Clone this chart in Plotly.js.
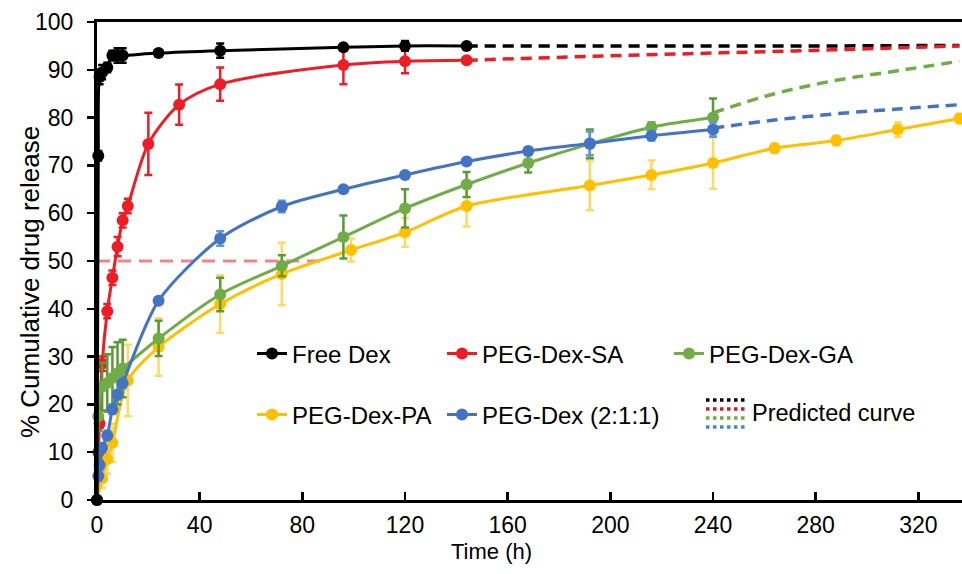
<!DOCTYPE html>
<html>
<head>
<meta charset="utf-8">
<script src="https://cdn.plot.ly/plotly-3.0.1.min.js"></script>
<style>html,body{margin:0;padding:0;background:#fff;}#chart{width:962px;height:574px;}</style>
</head>
<body>
<div id="chart"></div>
<script>
// ---- Data ----
const freeT = [0, 0.5, 1, 2, 4, 6, 8, 10, 24, 48, 96, 120, 144];
const freeV = [0, 72, 88.5, 89.5, 90.5, 93, 93, 93, 93.5, 94, 94.7, 95, 95];
const freeE = [0, 1, 1.5, 1.5, 1, 1, 1.5, 1.5, 0.5, 1.5, 0.5, 1, 0.3];

const saT = [0, 0.5, 1, 2, 4, 6, 8, 10, 12, 20, 32, 48, 96, 120, 144];
const saV = [0, 10, 16, 28.5, 39.5, 46.5, 53, 58.5, 61.5, 74.5, 82.7, 87, 91, 91.8, 92];
const saE = [0, 1, 1, 1.5, 1.5, 1.5, 2, 1.5, 1.5, 6.5, 4.2, 3.5, 4, 2.5, 0.5];

const gaT = [0, 0.5, 2, 4, 6, 8, 10, 24, 48, 72, 96, 120, 144, 168, 192, 216, 240];
const gaV = [0, 17.5, 23.7, 24.5, 25.5, 26.5, 27.5, 33.8, 43, 49, 55, 61, 66, 70.5, 74.5, 78, 80];
const gaE = [0, 3, 5, 6, 6.5, 6.5, 6, 3.7, 3.5, 2.2, 4.5, 4, 2.6, 2, 3, 1, 4];

const paT = [0, 2, 4, 6, 12, 24, 48, 72, 99, 120, 144, 192, 216, 240, 264, 288, 312, 336];
const paV = [0, 4.5, 8.5, 12, 25, 32, 41, 47.3, 52.3, 56, 61.5, 65.8, 68, 70.5, 73.6, 75.2, 77.5, 79.8];
const paE = [0, 2, 3, 4, 7.5, 6, 6, 6.5, 2.4, 3, 4.3, 5.2, 3, 5.4, 1, 1, 1.5, 1];

const dxT = [0, 0.5, 1, 2, 4, 6, 8, 10, 24, 48, 72, 96, 120, 144, 168, 192, 216, 240];
const dxV = [0, 5, 7.3, 10.9, 13.5, 19, 22, 24.4, 41.7, 54.7, 61.4, 65, 68, 70.8, 73, 74.6, 76.2, 77.5];
const dxE = [0, 1, 1, 1, 1, 1, 1, 1, 0.5, 1.5, 1.2, 0.5, 0.5, 0.5, 0.8, 2.5, 1, 1.5];

// Predicted curves
const predEarlyT = [144, 192, 240, 288, 336];
const predFreeV = [95, 95, 95, 95, 95.1];
const predSaV = [92, 92.8, 93.5, 94.2, 95];
const predLateT = [240, 264, 288, 312, 336];
const predGaV = [81, 85, 87.8, 89.8, 91.8];
const predDxV = [77.8, 79.5, 80.8, 81.8, 82.7];

// 50 % release guide
const halfT = [0, 90];
const halfV = [50, 50];

const seriesNames = ["Free Dex", "PEG-Dex-SA", "PEG-Dex-GA", "PEG-Dex-PA", "PEG-Dex (2:1:1)"];
const predLabel = "Predicted curve";
const xTitle = "Time (h)";
const yTitle = "% Cumulative drug release";

// ---- Styles ----
const C = {black: "#000000", red: "#ee1c25", green: "#70ad47", yellow: "#ffc000", blue: "#4472c4"};
const EC = {black: "#000000", red: "#ee1c25", green: "#5a9a34", yellow: "#ffd966", blue: "#5b9bd5"};
const FONT = "Liberation Sans, Arial, Helvetica, sans-serif";
const W = 962, H = 574, L = 97, R = 0, T = 22, B = 74;
const pw = W - L - R, ph = H - T - B;
const px2x = p => (p - L) / pw;
const px2y = p => (H - B - p) / ph;

function dataTrace(x, y, e, col, ecol, name, legendId) {
  return {
    x: x, y: y, type: "scatter", mode: "lines+markers", name: name,
    line: {color: col, width: 3, shape: "spline", smoothing: 0.8},
    marker: {color: col, size: 12},
    error_y: {type: "data", array: e, visible: true, color: ecol, thickness: 2.5, width: 4},
    cliponaxis: false, legend: legendId, showlegend: true
  };
}
function predTrace(x, y, col) {
  return {
    x: x, y: y, type: "scatter", mode: "lines", showlegend: false,
    line: {color: col, width: 3.5, dash: "11px,7px", shape: "spline"}, hoverinfo: "skip"
  };
}

const traces = [
  {x: halfT, y: halfV, type: "scatter", mode: "lines", showlegend: false,
   line: {color: "rgba(240,110,115,0.85)", width: 3, dash: "13px,8px"}},
  predTrace(predEarlyT, predFreeV, C.black),
  predTrace(predEarlyT, predSaV, C.red),
  predTrace(predLateT, predGaV, C.green),
  predTrace(predLateT, predDxV, C.blue),
  dataTrace(paT, paV, paE, C.yellow, EC.yellow, seriesNames[3], "legend4"),
  dataTrace(saT, saV, saE, C.red, EC.red, seriesNames[1], "legend2"),
  dataTrace(gaT, gaV, gaE, C.green, EC.green, seriesNames[2], "legend3"),
  dataTrace(dxT, dxV, dxE, C.blue, EC.blue, seriesNames[4], "legend5"),
  dataTrace(freeT, freeV, freeE, C.black, EC.black, seriesNames[0], "legend")
];

function leg(pxX, pxY) {
  return {x: px2x(pxX), y: px2y(pxY), xanchor: "left", yanchor: "middle",
          bgcolor: "rgba(0,0,0,0)", borderwidth: 0, orientation: "v",
          font: {family: FONT, size: 24, color: "#000"}, itemwidth: 30, tracegroupgap: 0};
}

// "Predicted curve" legend symbol: four stacked dotted lines
const predCols = ["#000000", "#c0202a", "#70ad47", "#3c8ad8"];
const predYs = [400, 409, 418, 427];
const shapes = predCols.map((c, i) => ({
  type: "line", xref: "paper", yref: "paper",
  x0: px2x(706), x1: px2x(746), y0: px2y(predYs[i]), y1: px2y(predYs[i]),
  line: {color: c, width: 3.5, dash: "dot"}
}));

const layout = {
  width: W, height: H,
  margin: {l: L, r: R, t: T, b: B, pad: 0},
  paper_bgcolor: "#fff", plot_bgcolor: "#fff",
  font: {family: FONT, color: "#000"},
  xaxis: {
    range: [0, 337], tickvals: [0, 40, 80, 120, 160, 200, 240, 280, 320],
    ticks: "inside", ticklen: 8, tickwidth: 2.5, tickcolor: "#000",
    showline: true, linewidth: 3, linecolor: "#000", mirror: true,
    showgrid: false, zeroline: false, ticklabelstandoff: 2,
    tickfont: {family: FONT, size: 23, color: "#000"}
  },
  yaxis: {
    range: [0, 100], dtick: 10, tick0: 0,
    ticks: "outside", ticklen: 7, tickwidth: 2.5, tickcolor: "#000",
    showline: true, linewidth: 3, linecolor: "#000",
    showgrid: false, zeroline: false, ticklabelstandoff: 9,
    tickfont: {family: FONT, size: 23, color: "#000"}
  },
  showlegend: true,
  legend: leg(252, 354),
  legend2: leg(442, 354),
  legend3: leg(669, 354),
  legend4: leg(252, 415),
  legend5: leg(442, 415),
  shapes: shapes,
  annotations: [
    {text: predLabel, xref: "paper", yref: "paper", x: px2x(750), y: px2y(413),
     xanchor: "left", yanchor: "middle", showarrow: false,
     font: {family: FONT, size: 23.5, color: "#000"}},
    {text: xTitle, xref: "paper", yref: "paper", x: px2x(491), y: px2y(551),
     xanchor: "center", yanchor: "middle", showarrow: false,
     font: {family: FONT, size: 22, color: "#000"}},
    {text: yTitle, xref: "paper", yref: "paper", x: px2x(30), y: px2y(282),
     xanchor: "center", yanchor: "middle", showarrow: false, textangle: -90,
     font: {family: FONT, size: 26, color: "#000"}}
  ]
};

Plotly.newPlot("chart", traces, layout, {displayModeBar: false, staticPlot: true});
</script>
</body>
</html>
